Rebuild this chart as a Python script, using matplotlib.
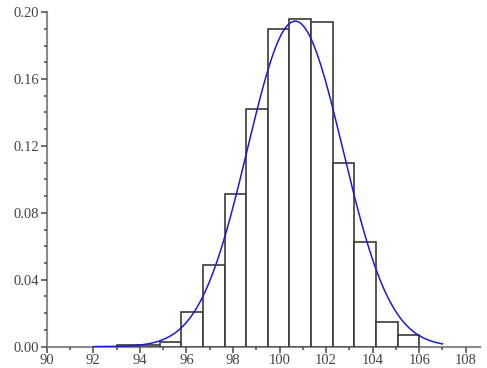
import matplotlib
matplotlib.use("Agg")
import matplotlib.pyplot as plt
import numpy as np
from matplotlib.ticker import MultipleLocator, FormatStrFormatter

# histogram (density)
bin_edges = np.linspace(93, 106, 15)
densities = [0.0010, 0.0012, 0.0030, 0.0208, 0.0487, 0.0910, 0.1420,
             0.1900, 0.1958, 0.1940, 0.1100, 0.0627, 0.0148, 0.0068]

# fitted normal curve parameters
mu = 100.67
sigma = 2.05
curve_range = (92, 107)

plt.rcParams['font.family'] = ['Liberation Serif', 'DejaVu Serif']

fig = plt.figure(figsize=(4.87, 3.68), dpi=100)
ax = fig.add_axes([0.096, 0.058, 0.889, 0.909])

ax.bar(bin_edges[:-1], densities, width=np.diff(bin_edges), align='edge',
       facecolor='white', edgecolor='#3a3a3a', linewidth=1.2, zorder=2)

xs = np.linspace(curve_range[0], curve_range[1], 400)
ys = np.exp(-0.5 * ((xs - mu) / sigma) ** 2) / (sigma * np.sqrt(2 * np.pi))
ax.plot(xs, ys, color='#1a1adf', linewidth=1.1, zorder=3)

ax.set_xlim(90, 108.6)
ax.set_ylim(0, 0.2)

for side in ['top', 'right']:
    ax.spines[side].set_visible(False)
for side in ['left', 'bottom']:
    ax.spines[side].set_color('#8a8a8a')
    ax.spines[side].set_linewidth(1.5)
    ax.spines[side].set_zorder(1)

ax.xaxis.set_major_locator(MultipleLocator(2))
ax.xaxis.set_minor_locator(MultipleLocator(1))
ax.yaxis.set_major_locator(MultipleLocator(0.04))
ax.yaxis.set_minor_locator(MultipleLocator(0.01))
ax.yaxis.set_major_formatter(FormatStrFormatter('%.2f'))

ax.tick_params(axis='both', which='major', length=4.5, width=1.2,
               color='#555555', labelsize=10.5, labelcolor='#444444', pad=1)
ax.tick_params(axis='both', which='minor', length=2.5, width=1.2, color='#555555')
ax.tick_params(axis='x', which='both', direction='out')
ax.tick_params(axis='y', which='both', direction='out')

fig.savefig('out.png', dpi=100)
